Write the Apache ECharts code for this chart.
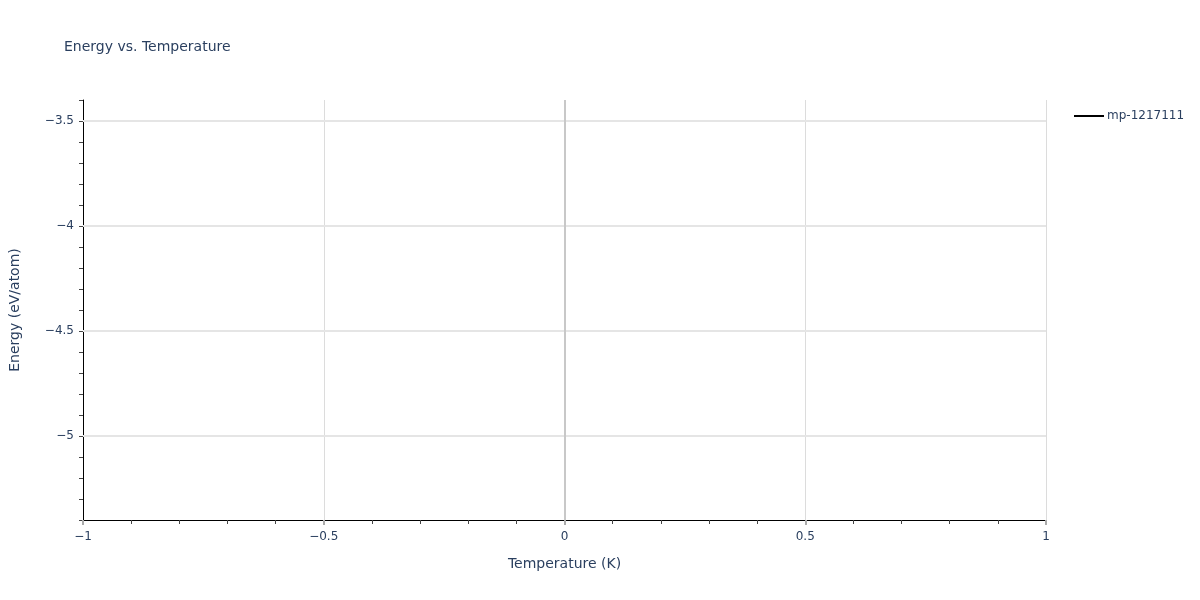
<!DOCTYPE html>
<html>
<head>
<meta charset="utf-8">
<script src="https://cdn.jsdelivr.net/npm/echarts@6/dist/echarts.min.js"></script>
<style>html,body{margin:0;padding:0;background:#fff}#c{width:1200px;height:600px}</style>
</head>
<body>
<div id="c"></div>
<script>
var seriesName = 'mp-1217111';
var temperatures = [];
var energies = [];
var yGridValues = [-3.5, -4, -4.5, -5];
var xZero = [0];

var FONT = 'DejaVu Sans';
var TXT = '#2a3f5f';
function fmt(v) {
  var s = String(Math.round(v * 1000) / 1000);
  return s.replace('-', '\u2212');
}
var chart = echarts.init(document.getElementById('c'));
chart.setOption({
  animation: false,
  backgroundColor: '#fff',
  title: {
    text: 'Energy vs. Temperature', left: 59, top: 35,
    textStyle: {fontFamily: FONT, fontSize: 14, fontWeight: 'normal', color: TXT}
  },
  legend: {
    left: 1069, top: 105, itemWidth: 30, itemHeight: 2, itemGap: 4,
    icon: 'rect',
    textStyle: {fontFamily: FONT, fontSize: 12, color: TXT, padding: [0, 0, 0, -2]},
    data: [{name: seriesName, icon: 'path://M0,0 L30,0 L30,2 L0,2 Z'}]
  },
  grid: {left: 80, right: 154, top: 100, bottom: 80, containLabel: false},
  xAxis: {
    type: 'value', min: -1, max: 1, interval: 0.5,
    name: 'Temperature (K)', nameLocation: 'middle', nameGap: 37,
    nameTextStyle: {fontFamily: FONT, fontSize: 14, color: TXT},
    axisLine: {onZero: false, lineStyle: {color: '#000', width: 1}},
    axisTick: {show: true, length: 5, lineStyle: {color: '#aaa', width: 2}},
    minorTick: {show: true, splitNumber: 5, length: 4, lineStyle: {color: '#444', width: 1}},
    axisLabel: {fontFamily: FONT, fontSize: 12, color: TXT, margin: 11, formatter: fmt},
    splitLine: {show: true, lineStyle: {color: '#dcdcdc', width: 1}}
  },
  yAxis: {
    type: 'value', min: -5.4, max: -3.4, interval: 0.1,
    name: 'Energy (eV/atom)', nameLocation: 'middle', nameGap: 61,
    nameTextStyle: {fontFamily: FONT, fontSize: 14, color: TXT},
    axisLine: {show: true, onZero: false, lineStyle: {color: '#000', width: 1}},
    axisTick: {show: true, length: 4, lineStyle: {color: '#444', width: 1}},
    axisLabel: {
      fontFamily: FONT, fontSize: 12, color: TXT, margin: 9,
      formatter: function (v) {
        return Math.abs(v * 2 - Math.round(v * 2)) < 1e-6 ? fmt(v) : '';
      }
    },
    splitLine: {show: false}
  },
  series: [{
    name: seriesName, type: 'line', showSymbol: false,
    lineStyle: {color: '#000', width: 2}, itemStyle: {color: '#000'},
    data: temperatures.map(function (t, i) { return [t, energies[i]]; }),
    markLine: {
      silent: true, symbol: 'none', label: {show: false}, animation: false,
      data: yGridValues.map(function (v) {
        return {yAxis: v, lineStyle: {color: '#e5e5e5', width: 2, type: 'solid'}};
      }).concat(xZero.map(function (v) {
        return {xAxis: v, lineStyle: {color: '#c8c8c8', width: 2, type: 'solid'}};
      }))
    }
  }]
});
</script>
</body>
</html>
